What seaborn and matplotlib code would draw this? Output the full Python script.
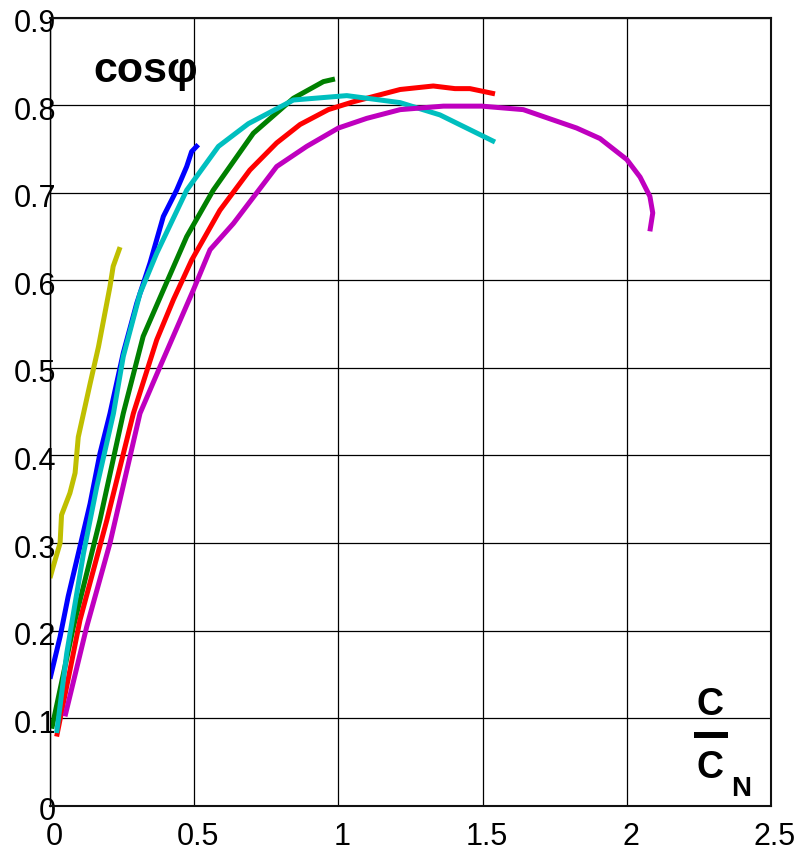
import matplotlib
matplotlib.use("Agg")
import matplotlib.pyplot as plt
import matplotlib.transforms as mtransforms
from matplotlib.lines import Line2D
import numpy as np
import pandas as pd
import seaborn as sns

# Power factor versus relative load C/C_N
yellow_x = [0.0, 0.011, 0.035, 0.04, 0.069, 0.087, 0.098, 0.139, 0.168, 0.208, 0.219, 0.243]
yellow_y = [0.26, 0.273, 0.30, 0.332, 0.357, 0.38, 0.421, 0.482, 0.524, 0.593, 0.616, 0.638]

blue_x = [0.0, 0.035, 0.063, 0.104, 0.139, 0.173, 0.208, 0.254, 0.301, 0.347, 0.393, 0.439, 0.474, 0.491, 0.514]
blue_y = [0.145, 0.193, 0.239, 0.296, 0.345, 0.402, 0.448, 0.517, 0.574, 0.620, 0.673, 0.703, 0.730, 0.747, 0.755]

green_x = [0.006, 0.081, 0.173, 0.254, 0.323, 0.393, 0.474, 0.566, 0.705, 0.844, 0.948, 0.988]
green_y = [0.088, 0.204, 0.326, 0.448, 0.536, 0.589, 0.650, 0.703, 0.768, 0.808, 0.827, 0.830]

red_x = [0.023, 0.104, 0.197, 0.289, 0.370, 0.428, 0.491, 0.589, 0.693, 0.786, 0.867, 0.965,
         1.052, 1.214, 1.329, 1.404, 1.456, 1.543]
red_y = [0.079, 0.212, 0.326, 0.448, 0.532, 0.578, 0.623, 0.680, 0.726, 0.757, 0.778, 0.795,
         0.804, 0.818, 0.822, 0.819, 0.819, 0.813]

cyan_x = [0.023, 0.058, 0.116, 0.162, 0.22, 0.254, 0.312, 0.370, 0.474, 0.584, 0.688, 0.844,
          1.029, 1.214, 1.352, 1.543]
cyan_y = [0.083, 0.174, 0.288, 0.364, 0.448, 0.513, 0.585, 0.631, 0.703, 0.753, 0.779, 0.806,
          0.811, 0.803, 0.789, 0.758]

magenta_x = [0.052, 0.127, 0.208, 0.312, 0.381, 0.497, 0.555, 0.636, 0.786, 0.890, 1.0, 1.098,
             1.214, 1.364, 1.497, 1.641, 1.826, 1.907, 2.0, 2.046, 2.080, 2.090, 2.080]
magenta_y = [0.102, 0.204, 0.30, 0.448, 0.501, 0.589, 0.635, 0.665, 0.730, 0.753, 0.774, 0.785,
             0.795, 0.799, 0.799, 0.795, 0.774, 0.762, 0.738, 0.718, 0.696, 0.677, 0.656]

x_ticks = [0, 0.5, 1, 1.5, 2, 2.5]
x_tick_labels = ["0", "0.5", "1", "1.5", "2", "2.5"]
y_ticks = [0, 0.1, 0.2, 0.3, 0.4, 0.5, 0.6, 0.7, 0.8, 0.9]
y_tick_labels = ["0", "0.1", "0.2", "0.3", "0.4", "0.5", "0.6", "0.7", "0.8", "0.9"]

curves = [
    ("b", blue_x, blue_y, "#0000FF"),
    ("g", green_x, green_y, "#008000"),
    ("r", red_x, red_y, "#FF0000"),
    ("c", cyan_x, cyan_y, "#00BFBF"),
    ("m", magenta_x, magenta_y, "#BF00BF"),
    ("y", yellow_x, yellow_y, "#BFBF00"),
]

sns.set_style("white")
plt.rcParams["font.family"] = ["Liberation Sans", "DejaVu Sans"]

DPI = 100
fig = plt.figure(figsize=(8.03, 8.51), dpi=DPI)
ax = fig.add_axes([50 / 803, 1 - 805.7 / 851, 721 / 803, 788 / 851])

for name, xs, ys, col in curves:
    df = pd.DataFrame({"x": xs, "y": ys})
    sns.lineplot(data=df, x="x", y="y", sort=False, estimator=None, ax=ax,
                 color=col, linewidth=3.6, solid_capstyle="butt", solid_joinstyle="round")

ax.set_xlim(0, 2.5)
ax.set_ylim(0, 0.9)
ax.set_xticks(x_ticks)
ax.set_xticklabels(x_tick_labels)
ax.set_yticks(y_ticks)
ax.set_yticklabels(y_tick_labels)
ax.set_xlabel("")
ax.set_ylabel("")

ax.grid(True, color="black", linewidth=0.9)
ax.set_axisbelow(True)

for side in ["top", "right", "bottom"]:
    ax.spines[side].set_linewidth(1.5)
    ax.spines[side].set_color("#111111")
ax.spines["left"].set_linewidth(1.0)
ax.spines["left"].set_color("black")

ax.tick_params(axis="both", labelsize=22, length=0, colors="black")
ax.tick_params(axis="x", pad=11.5)
ax.tick_params(axis="y", pad=-4.5)

# small nudge of the tick labels
dx = mtransforms.ScaledTranslation(4 / DPI, 0, fig.dpi_scale_trans)
for lbl in ax.get_xticklabels():
    lbl.set_transform(lbl.get_transform() + dx)
dy = mtransforms.ScaledTranslation(0, -3 / DPI, fig.dpi_scale_trans)
for lbl in ax.get_yticklabels():
    lbl.set_transform(lbl.get_transform() + dy)

# axis annotations
ax.text(0.149, 0.826, "cosφ", fontsize=31, fontweight="bold", ha="left",
        va="baseline", color="black")

ax.text(2.288, 0.115, "C", fontsize=27, fontweight="bold", ha="center",
        va="center", color="black")
ax.add_line(Line2D([2.233, 2.351], [0.0808, 0.0808], color="black", linewidth=4.3,
                   solid_capstyle="butt"))
ax.text(2.288, 0.0426, "C", fontsize=27, fontweight="bold", ha="center",
        va="center", color="black")
ax.text(2.396, 0.019, "N", fontsize=20, fontweight="bold", ha="center",
        va="center", color="black")

fig.savefig("out.png", dpi=DPI, facecolor="white")
